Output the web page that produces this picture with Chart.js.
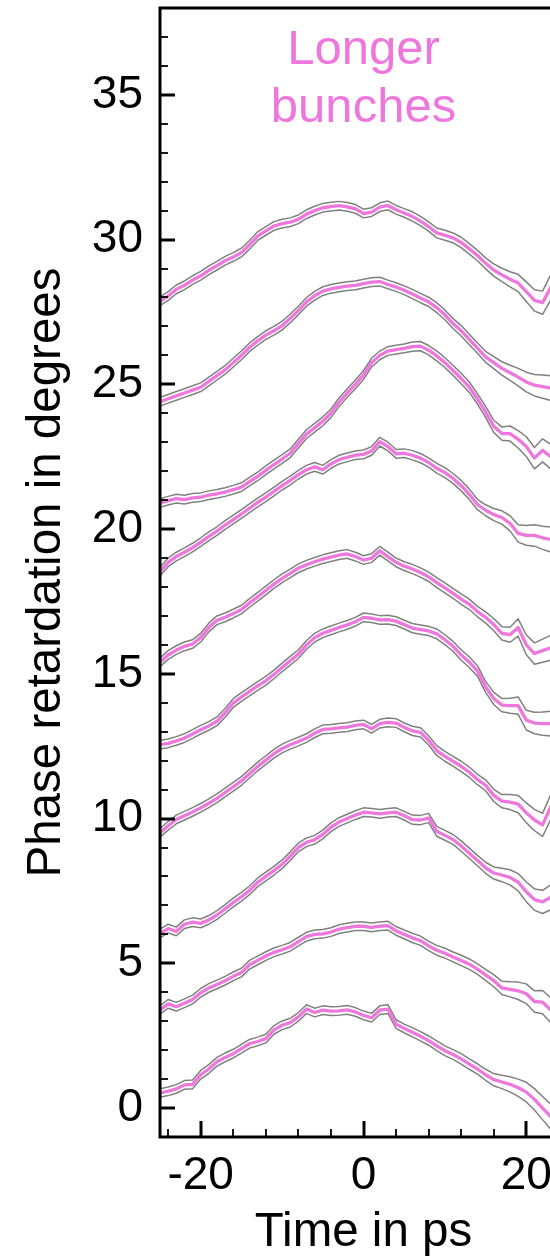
<!DOCTYPE html>
<html>
<head>
<meta charset="utf-8">
<script src="https://cdn.jsdelivr.net/npm/chart.js@4.4.0/dist/chart.umd.min.js"></script>
<style>
  html, body { margin: 0; padding: 0; background: #fff; overflow: hidden; }
  #wrap { width: 600px; height: 1258px; }
</style>
</head>
<body>
<div id="wrap"><canvas id="phaseChart" width="600" height="1258"></canvas></div>
<script>
// time axis in ps, one sample per ps
const time = [-25, -24, -23, -22, -21, -20, -19, -18, -17, -16,
  -15, -14, -13, -12, -11, -10, -9, -8, -7, -6,
  -5, -4, -3, -2, -1, 0, 1, 2, 3, 4,
  5, 6, 7, 8, 9, 10, 11, 12, 13, 14,
  15, 16, 17, 18, 19, 20, 21, 22, 23, 24];

// half width of the grey band round each trace (degrees)
const spread = [0.15, 0.15, 0.15, 0.15, 0.15, 0.15, 0.15, 0.15, 0.15, 0.15,
  0.15, 0.15, 0.15, 0.15, 0.15, 0.15, 0.15, 0.15, 0.15, 0.15,
  0.15, 0.15, 0.15, 0.15, 0.15, 0.15, 0.15, 0.15, 0.15, 0.15,
  0.15, 0.16, 0.16, 0.16, 0.17, 0.17, 0.17, 0.18, 0.18, 0.18,
  0.19, 0.21, 0.23, 0.26, 0.3, 0.34, 0.37, 0.4, 0.43, 0.45];

// phase retardation traces, top to bottom (degrees)
const bunch1 = [27.87, 28.05, 28.28, 28.42, 28.6, 28.75, 28.94, 29.1, 29.27, 29.4,
  29.55, 29.82, 30.12, 30.3, 30.47, 30.55, 30.6, 30.7, 30.88, 31.0,
  31.1, 31.14, 31.17, 31.13, 31.06, 30.9, 30.95, 31.12, 31.18, 31.03,
  30.92, 30.8, 30.64, 30.45, 30.23, 30.15, 30.06, 29.9, 29.68, 29.45,
  29.18, 28.95, 28.78, 28.63, 28.5, 28.2, 27.9, 27.82, 28.35, 28.8];
const bunch2 = [24.4, 24.5, 24.6, 24.7, 24.8, 24.9, 25.1, 25.3, 25.5, 25.75,
  26.0, 26.28, 26.5, 26.7, 26.85, 27.03, 27.28, 27.55, 27.85, 28.06,
  28.22, 28.3, 28.35, 28.39, 28.42, 28.48, 28.53, 28.55, 28.45, 28.36,
  28.25, 28.12, 27.98, 27.85, 27.65, 27.4, 27.1, 26.85, 26.55, 26.25,
  25.95, 25.75, 25.55, 25.4, 25.25, 25.08, 24.97, 24.92, 24.87, 24.85];
const bunch3 = [20.9, 20.98, 21.05, 21.02, 21.08, 21.1, 21.17, 21.22, 21.28, 21.36,
  21.45, 21.64, 21.82, 22.03, 22.23, 22.42, 22.62, 22.95, 23.28, 23.5,
  23.72, 24.0, 24.38, 24.7, 25.0, 25.32, 25.75, 26.0, 26.15, 26.2,
  26.24, 26.3, 26.32, 26.18, 25.98, 25.75, 25.48, 25.2, 24.9, 24.5,
  24.05, 23.55, 23.3, 23.3, 23.1, 22.85, 22.45, 22.72, 22.5, 22.5];
const bunch4 = [18.53, 18.85, 19.05, 19.2, 19.36, 19.55, 19.75, 19.93, 20.14, 20.33,
  20.52, 20.72, 20.92, 21.1, 21.3, 21.5, 21.68, 21.88, 22.05, 22.15,
  22.05, 22.25, 22.4, 22.48, 22.55, 22.58, 22.7, 23.02, 22.85, 22.6,
  22.62, 22.55, 22.45, 22.3, 22.1, 21.95, 21.75, 21.5, 21.2, 20.85,
  20.65, 20.5, 20.4, 20.2, 19.85, 19.78, 19.78, 19.7, 19.64, 19.6];
const bunch5 = [15.4, 15.65, 15.82, 15.95, 16.03, 16.25, 16.6, 16.85, 16.95, 17.08,
  17.22, 17.45, 17.66, 17.88, 18.1, 18.3, 18.47, 18.65, 18.77, 18.87,
  18.96, 19.03, 19.1, 19.14, 19.05, 18.93, 19.0, 19.25, 19.05, 18.85,
  18.72, 18.62, 18.5, 18.35, 18.15, 17.97, 17.78, 17.58, 17.4, 17.15,
  16.95, 16.7, 16.4, 16.35, 16.6, 16.0, 15.7, 15.8, 15.9, 15.95];
const bunch6 = [12.55, 12.6, 12.68, 12.78, 12.92, 13.07, 13.2, 13.36, 13.65, 13.99,
  14.2, 14.39, 14.58, 14.76, 14.98, 15.22, 15.45, 15.68, 16.0, 16.25,
  16.4, 16.5, 16.6, 16.69, 16.8, 16.95, 16.92, 16.86, 16.87, 16.82,
  16.7, 16.58, 16.53, 16.48, 16.38, 16.18, 15.95, 15.65, 15.4, 15.1,
  14.55, 14.15, 13.92, 13.9, 13.9, 13.4, 13.3, 13.28, 13.28, 13.3];
const bunch7 = [9.51, 9.75, 9.97, 10.1, 10.23, 10.37, 10.53, 10.7, 10.9, 11.1,
  11.3, 11.55, 11.8, 12.02, 12.24, 12.42, 12.55, 12.66, 12.78, 12.95,
  13.08, 13.1, 13.13, 13.16, 13.22, 13.25, 13.1, 13.28, 13.32, 13.3,
  13.15, 13.03, 12.98, 12.7, 12.35, 12.15, 11.98, 11.8, 11.6, 11.35,
  11.15, 10.8, 10.6, 10.57, 10.5, 10.2, 9.95, 9.78, 10.4, 11.0];
const bunch8 = [6.03, 6.2, 6.1, 6.35, 6.42, 6.38, 6.5, 6.67, 6.88, 7.1,
  7.3, 7.52, 7.8, 8.0, 8.2, 8.42, 8.7, 9.0, 9.18, 9.27,
  9.45, 9.7, 9.88, 10.0, 10.12, 10.22, 10.2, 10.16, 10.2, 10.22,
  10.1, 9.96, 9.95, 10.02, 9.56, 9.42, 9.28, 9.05, 8.8, 8.55,
  8.3, 8.12, 8.05, 7.97, 7.8, 7.47, 7.2, 7.12, 7.28, 7.3];
const bunch9 = [3.39, 3.6, 3.5, 3.62, 3.75, 3.98, 4.15, 4.27, 4.4, 4.55,
  4.68, 4.95, 5.1, 5.25, 5.38, 5.47, 5.57, 5.75, 5.92, 6.0,
  6.02, 6.08, 6.18, 6.23, 6.28, 6.28, 6.24, 6.28, 6.3, 6.12,
  6.0, 5.88, 5.78, 5.6, 5.45, 5.35, 5.22, 5.1, 4.97, 4.8,
  4.6, 4.4, 4.15, 4.1, 4.05, 3.95, 3.68, 3.66, 3.38, 3.3];
const bunch10 = [0.52, 0.58, 0.66, 0.8, 0.82, 1.15, 1.35, 1.6, 1.75, 1.88,
  2.05, 2.22, 2.3, 2.4, 2.7, 2.86, 2.95, 3.15, 3.42, 3.3,
  3.38, 3.35, 3.36, 3.39, 3.32, 3.2, 3.12, 3.38, 3.42, 2.9,
  2.75, 2.62, 2.48, 2.33, 2.15, 1.98, 1.85, 1.7, 1.52, 1.35,
  1.15, 0.98, 0.9, 0.82, 0.7, 0.55, 0.3, 0.0, -0.3, -0.1];

const bunches = [bunch1, bunch2, bunch3, bunch4, bunch5, bunch6, bunch7, bunch8, bunch9, bunch10];

const xTickLabels = ['-20', '0', '20'];
const yTickLabels = ['0', '5', '10', '15', '20', '25', '30', '35'];
const xMinorStep = 4;   // ps between small ticks
const yMinorStep = 1;   // degrees between small ticks

const pink = 'rgb(238, 119, 221)';
const grey = 'rgb(128, 128, 128)';
const fontFamily = '"Liberation Sans", Arial, Helvetica, sans-serif';

function points(values, sign) {
  return values.map((v, i) => ({ x: time[i], y: v + sign * spread[i] }));
}

const datasets = [];
bunches.forEach((vals, k) => {
  datasets.push({ label: 'upper ' + (k + 1), data: points(vals, 1), borderColor: grey, borderWidth: 1.5, order: 1 });
  datasets.push({ label: 'lower ' + (k + 1), data: points(vals, -1), borderColor: grey, borderWidth: 1.5, order: 1 });
  datasets.push({ label: 'bunch ' + (k + 1), data: points(vals, 0), borderColor: pink, borderWidth: 3.3, order: 0 });
});

// frame, inward ticks and the note
const frameAndTicks = {
  id: 'frameAndTicks',
  afterDatasetsDraw(chart) {
    const { ctx, chartArea: a, scales: { x, y } } = chart;
    ctx.save();
    ctx.strokeStyle = '#000';
    x.ticks.forEach(t => {
      if (t.value <= x.min || t.value >= x.max) return;
      const px = Math.round(x.getPixelForValue(t.value));
      const major = xTickLabels.includes(String(t.value));
      ctx.lineWidth = major ? 3 : 1.8;
      ctx.beginPath();
      ctx.moveTo(px, a.bottom);
      ctx.lineTo(px, a.bottom - (major ? 16 : 8));
      ctx.stroke();
    });
    y.ticks.forEach(t => {
      if (t.value <= y.min || t.value >= y.max) return;
      const py = Math.round(y.getPixelForValue(t.value));
      const major = yTickLabels.includes(String(t.value));
      ctx.lineWidth = major ? 3 : 1.8;
      ctx.beginPath();
      ctx.moveTo(a.left, py);
      ctx.lineTo(a.left + (major ? 15 : 8), py);
      ctx.stroke();
    });
    ctx.lineWidth = 3;
    ctx.strokeRect(a.left, a.top, a.right - a.left, a.bottom - a.top);

    ctx.fillStyle = pink;
    ctx.font = '49px ' + fontFamily;
    ctx.textAlign = 'center';
    ctx.textBaseline = 'alphabetic';
    const cx = x.getPixelForValue(0);
    ctx.fillText('Longer', cx, 64);
    ctx.fillText('bunches', cx, 122);
    ctx.restore();
  }
};

const config = {
  type: 'line',
  data: { datasets: datasets },
  options: {
    responsive: false,
    animation: false,
    events: [],
    layout: { padding: { top: 8, right: 33, left: 0, bottom: 0 } },
    elements: {
      point: { radius: 0 },
      line: { tension: 0, borderJoinStyle: 'round', borderCapStyle: 'round' }
    },
    plugins: {
      legend: { display: false },
      tooltip: { enabled: false }
    },
    scales: {
      x: {
        type: 'linear',
        min: -25,
        max: 25,
        grid: { display: false, drawTicks: false },
        border: { display: false },
        afterFit: s => { s.height = 121; s.paddingLeft = 0; s.paddingRight = 0; },
        afterBuildTicks: s => {
          const ticks = [];
          for (let v = -24; v <= 24; v += xMinorStep) ticks.push({ value: v });
          s.ticks = ticks;
        },
        ticks: {
          autoSkip: false,
          maxRotation: 0,
          padding: 12,
          color: '#000',
          font: { size: 46, family: fontFamily },
          callback: v => xTickLabels.includes(String(v)) ? String(v) : ''
        },
        title: {
          display: true,
          text: 'Time in ps',
          color: '#000',
          font: { size: 47.5, family: fontFamily, lineHeight: 1 },
          padding: { top: 0, bottom: 1 }
        }
      },
      y: {
        type: 'linear',
        min: -1,
        max: 38,
        grid: { display: false, drawTicks: false },
        border: { display: false },
        afterFit: s => { s.width = 160; s.paddingTop = 0; s.paddingBottom = 0; },
        afterBuildTicks: s => {
          const ticks = [];
          for (let v = 0; v <= 37; v += yMinorStep) ticks.push({ value: v });
          s.ticks = ticks;
        },
        ticks: {
          autoSkip: false,
          padding: 17,
          color: '#000',
          font: { size: 46, family: fontFamily },
          callback: v => yTickLabels.includes(String(v)) ? String(v) : ''
        },
        title: {
          display: true,
          text: 'Phase retardation in degrees',
          color: '#000',
          font: { size: 47.5, family: fontFamily },
          padding: { top: 18, bottom: 0 }
        }
      }
    }
  },
  plugins: [frameAndTicks]
};

new Chart(document.getElementById('phaseChart'), config);
</script>
</body>
</html>
